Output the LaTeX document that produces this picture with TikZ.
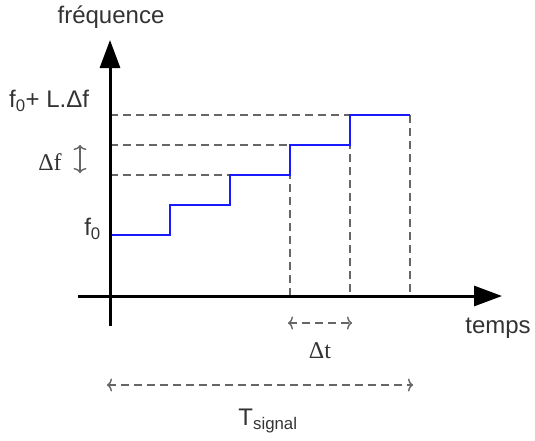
\documentclass[tikz,border=0pt]{standalone}
\usepackage{fontspec}
\setmainfont{Liberation Sans}
\newfontfamily\serifA{Liberation Serif}
\usetikzlibrary{arrows.meta}
\definecolor{txt}{HTML}{333333}
\definecolor{dsh}{HTML}{666666}
\definecolor{stp}{HTML}{1A1AFF}
\tikzset{
  axisline/.style={line width=3pt, -{Triangle[length=28pt,width=20pt]}},
  guide/.style={dsh, line width=1.8pt, dash pattern=on 8pt off 5pt},
  dimarrow/.style={dsh, line width=1.4pt, dash pattern=on 8pt off 5pt, {To[length=5pt,width=13pt]}-{To[length=5pt,width=13pt]}},
  stair/.style={stp, line width=2.2pt},
  lbl/.style={text=txt, inner sep=0pt, font=\fontsize{24}{26}\selectfont},
  slbl/.style={text=txt, inner sep=0pt, font=\serifA\fontsize{24}{26}\selectfont},
}
\begin{document}
\begin{tikzpicture}[x=1pt,y=-1pt]
\useasboundingbox (0,0) rectangle (535,440);
% key coordinates
\coordinate (vb) at (110,326);
\coordinate (vt) at (110,40);
\coordinate (hl) at (78,296);
\coordinate (hr) at (502,296);
\coordinate (s0) at (110,235);
\coordinate (s1) at (170,235);
\coordinate (s2) at (170,205);
\coordinate (s3) at (230,205);
\coordinate (s4) at (230,175);
\coordinate (s5) at (290,175);
\coordinate (s6) at (290,145);
\coordinate (s7) at (350,145);
\coordinate (s8) at (350,115);
\coordinate (s9) at (410,115);
\coordinate (a115) at (110,115);
\coordinate (a145) at (110,145);
\coordinate (a175) at (110,175);
\coordinate (b290) at (290,296);
\coordinate (b350) at (350,296);
\coordinate (b410) at (410,296);
% guides
\draw[guide] (a115) -- (s8);
\draw[guide] (a145) -- (s6);
\draw[guide] (a175) -- (s4);
\draw[guide] (s6) -- (b290);
\draw[guide] (s8) -- (b350);
\draw[guide] (s9) -- (b410);
% staircase
\draw[stair] (s0) -- (s1) -- (s2) -- (s3) -- (s4) -- (s5) -- (s6) -- (s7) -- (s8) -- (s9);
% axes
\draw[axisline] (vb) -- (vt);
\draw[axisline] (hl) -- (hr);
% labels
\node[lbl] (freq) at (111,17) {fréquence};
\node[lbl] (temps) at (498,328) {temps};
\node[lbl, anchor=west] (fl) at (9,101) {f\textsubscript{0}+ L.Δf};
\node[lbl, anchor=east] (f0) at (101,229) {f\textsubscript{0}};
\node[slbl] (df) at (50,162) {Δf};
\node[slbl] (dt) at (320,351) {Δt};
\node[lbl] (ts) at (268,421) {T\textsubscript{signal}};
% dimension arrows
\coordinate (dfa) at (80,145);
\coordinate (dfb) at (80,173);
\draw[dsh, line width=1.4pt, {To[length=5pt,width=13pt]}-{To[length=5pt,width=13pt]}] (dfa) -- (dfb);
\coordinate (dta) at (288,323);
\coordinate (dtb) at (352,323);
\draw[dimarrow] (dta) -- (dtb);
\coordinate (tsa) at (107,385);
\coordinate (tsb) at (413,385);
\draw[dimarrow] (tsa) -- (tsb);
\end{tikzpicture}
\end{document}
